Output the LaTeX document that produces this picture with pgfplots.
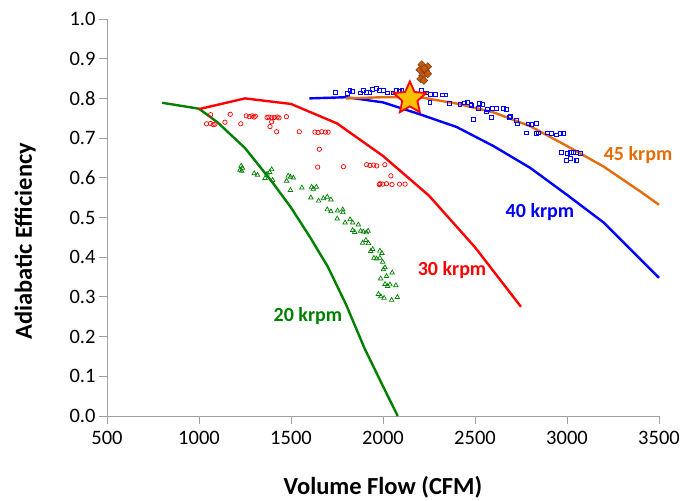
\documentclass[border=0pt]{standalone}
\usepackage{pgfplots}
\pgfplotsset{compat=1.18}
\usepackage{fontspec}
\setmainfont{Carlito}

\definecolor{axisgray}{RGB}{160,160,160}
\definecolor{cgreen}{RGB}{0,128,0}
\definecolor{cred}{RGB}{255,0,0}
\definecolor{cblue}{RGB}{0,0,255}
\definecolor{corange}{RGB}{228,108,10}
\definecolor{cbrown}{RGB}{197,90,17}
\definecolor{cbrowndark}{RGB}{132,60,12}
\definecolor{cyellow}{RGB}{255,192,0}

% filled five-point star
\pgfdeclareplotmark{fstar}{%
  \pgfpathmoveto{\pgfpointpolar{90}{\pgfplotmarksize}}%
  \pgfpathlineto{\pgfpointpolar{126}{0.47\pgfplotmarksize}}%
  \pgfpathlineto{\pgfpointpolar{162}{\pgfplotmarksize}}%
  \pgfpathlineto{\pgfpointpolar{198}{0.47\pgfplotmarksize}}%
  \pgfpathlineto{\pgfpointpolar{234}{\pgfplotmarksize}}%
  \pgfpathlineto{\pgfpointpolar{270}{0.47\pgfplotmarksize}}%
  \pgfpathlineto{\pgfpointpolar{306}{\pgfplotmarksize}}%
  \pgfpathlineto{\pgfpointpolar{342}{0.47\pgfplotmarksize}}%
  \pgfpathlineto{\pgfpointpolar{18}{\pgfplotmarksize}}%
  \pgfpathlineto{\pgfpointpolar{54}{0.47\pgfplotmarksize}}%
  \pgfpathclose
  \pgfusepathqfillstroke
}

\begin{document}
\begin{tikzpicture}
\path[use as bounding box] (-107pt,-84pt) rectangle (588pt,416pt);
\begin{axis}[
    scale only axis,
    width=552pt, height=397pt,
    xmin=500, xmax=3500,
    ymin=0, ymax=1,
    axis x line=bottom, axis y line=left,
    axis line style={-, draw=axisgray, line width=0.9pt},
    xtick={500,1000,1500,2000,2500,3000,3500},
    ytick={0,0.1,0.2,0.3,0.4,0.5,0.6,0.7,0.8,0.9,1.0},
    tick align=outside,
    major tick length=8pt,
    tick style={draw=axisgray, line width=0.9pt},
    ticklabel style={font=\fontsize{20.5}{20.5}\selectfont},
    /pgf/number format/assume math mode=true,
    yticklabel style={/pgf/number format/.cd, fixed, fixed zerofill, precision=1},
    xticklabel style={yshift=-4pt, /pgf/number format/.cd, set thousands separator={}},
    xlabel={Volume Flow (CFM)},
    ylabel={Adiabatic Efficiency},
    label style={font=\bfseries\fontsize{24.5}{24.5}\selectfont},
    xlabel style={at={(axis description cs:0.5,-0.18)}, anchor=center},
    ylabel style={at={(axis description cs:-0.148,0.44)}, anchor=center},
    clip=false,
]
% test data, 20 krpm
\addplot[only marks, mark=triangle, mark size=2.6pt, color=cgreen, mark options={line width=0.7pt}] coordinates {
(1223,0.620) (1229,0.630) (1232,0.617) (1236,0.625) (1300,0.611) (1318,0.607)
(1359,0.599) (1370,0.610) (1384,0.614) (1395,0.621) (1400,0.594) (1485,0.605)
(1497,0.602) (1513,0.600) (1476,0.592) (1497,0.569) (1559,0.575) (1612,0.577)
(1621,0.572) (1638,0.577) (1608,0.550) (1650,0.542) (1676,0.548) (1697,0.552)
(1717,0.545) (1697,0.520) (1717,0.515) (1753,0.517) (1781,0.520) (1782,0.513)
(1751,0.497) (1794,0.487) (1821,0.495) (1835,0.487) (1866,0.482) (1835,0.468)
(1846,0.463) (1878,0.466) (1893,0.464) (1909,0.462) (1919,0.466) (1889,0.436)
(1907,0.443) (1921,0.435) (1944,0.420) (1933,0.415) (1983,0.416) (1994,0.410)
(1951,0.398) (1965,0.396) (1983,0.398) (1998,0.388) (2002,0.369) (2011,0.374)
(2019,0.352) (2050,0.361) (1987,0.346) (2011,0.332) (2025,0.327) (2038,0.331)
(2070,0.329) (1975,0.307) (1988,0.301) (2006,0.297) (2047,0.292) (2078,0.299)
};
% test data, 30 krpm
\addplot[only marks, mark=o, mark size=2.2pt, color=cred, mark options={line width=0.7pt}] coordinates {
(1063,0.759) (1041,0.736) (1063,0.737) (1077,0.734) (1087,0.735) (1141,0.740)
(1170,0.760) (1227,0.736) (1257,0.756) (1274,0.754) (1289,0.756) (1299,0.753)
(1306,0.755) (1370,0.752) (1380,0.753) (1395,0.751) (1410,0.752) (1425,0.753)
(1435,0.751) (1395,0.741) (1386,0.729) (1475,0.754) (1422,0.716) (1545,0.716)
(1630,0.715) (1647,0.714) (1667,0.716) (1687,0.715) (1702,0.715) (1654,0.672)
(1645,0.627) (1785,0.628) (1911,0.633) (1929,0.631) (1949,0.632) (1966,0.630)
(2010,0.633) (2043,0.605) (1980,0.583) (1984,0.585) (1999,0.584) (2019,0.585)
(2049,0.583) (2090,0.584) (2120,0.584)
};
% test data, 40 krpm
\addplot[only marks, mark=square, mark size=1.9pt, color=cblue, mark options={line width=0.7pt}] coordinates {
(1739,0.815) (1806,0.813) (1820,0.820) (1835,0.817) (1875,0.814) (1893,0.821)
(1911,0.816) (1929,0.816) (1944,0.823) (1962,0.826) (1980,0.821) (2002,0.821)
(2023,0.814) (2053,0.814) (2071,0.821) (2089,0.818) (2102,0.821) (2210,0.821)
(2234,0.814) (2259,0.811) (2283,0.811) (2255,0.791) (2324,0.809) (2342,0.809)
(2359,0.788) (2418,0.786) (2440,0.789) (2458,0.791) (2477,0.786) (2482,0.783)
(2491,0.748) (2523,0.788) (2542,0.785) (2518,0.774) (2567,0.773) (2596,0.774)
(2618,0.774) (2654,0.774) (2672,0.773) (2560,0.766) (2591,0.753) (2686,0.753)
(2694,0.754) (2723,0.744) (2730,0.736) (2790,0.736) (2808,0.734) (2832,0.737)
(2777,0.713) (2832,0.711) (2846,0.713) (2893,0.713) (2917,0.711) (2944,0.708)
(2962,0.711) (2980,0.711) (2971,0.664) (3002,0.662) (3015,0.665) (3025,0.664)
(3034,0.665) (3053,0.664) (3074,0.661) (2998,0.643) (3016,0.649) (3049,0.644)
(3053,0.643)
};
% model lines
\addplot[color=cgreen, line width=2.4pt] coordinates {
(800,0.789) (1000,0.774) (1100,0.740) (1250,0.675) (1400,0.588) (1500,0.525)
(1600,0.453) (1700,0.376) (1800,0.280) (1900,0.170) (2000,0.075) (2080,0.0)
};
\addplot[color=cred, line width=2.4pt] coordinates {
(1000,0.773) (1250,0.800) (1500,0.786) (1750,0.737) (2000,0.655) (2250,0.555)
(2500,0.425) (2750,0.275)
};
\addplot[color=cblue, line width=2.4pt] coordinates {
(1600,0.800) (1800,0.803) (2000,0.790) (2200,0.760) (2400,0.728) (2600,0.680)
(2800,0.625) (3000,0.557) (3200,0.487) (3500,0.348)
};
\addplot[color=corange, line width=2.4pt] coordinates {
(1800,0.800) (2000,0.803) (2200,0.803) (2400,0.787) (2600,0.765) (2800,0.730)
(3000,0.680) (3200,0.628) (3400,0.565) (3500,0.532)
};
% other test points
\addplot[only marks, mark=square*, mark size=2.8pt, mark options={rotate=45, fill=cbrown, draw=cbrowndark, line width=0.5pt}] coordinates {
(2211,0.885) (2243,0.880) (2200,0.872) (2232,0.869) (2216,0.857) (2243,0.862)
(2205,0.849) (2225,0.875) (2222,0.845)
};
\addplot[only marks, mark=fstar, mark size=17pt, mark options={fill=cyellow, draw=cred, line width=1.8pt, line join=miter}] coordinates {
(2146,0.800)
};
% curve labels
\node[font=\bfseries\fontsize{20}{20}\selectfont, text=cgreen] at (axis cs:1592,0.252) {20 krpm};
\node[font=\bfseries\fontsize{20}{20}\selectfont, text=cred] at (axis cs:2375,0.368) {30 krpm};
\node[font=\bfseries\fontsize{20}{20}\selectfont, text=cblue] at (axis cs:2853,0.514) {40 krpm};
\node[font=\bfseries\fontsize{20}{20}\selectfont, text=corange] at (axis cs:3386,0.657) {45 krpm};
\end{axis}
\end{tikzpicture}
\end{document}
